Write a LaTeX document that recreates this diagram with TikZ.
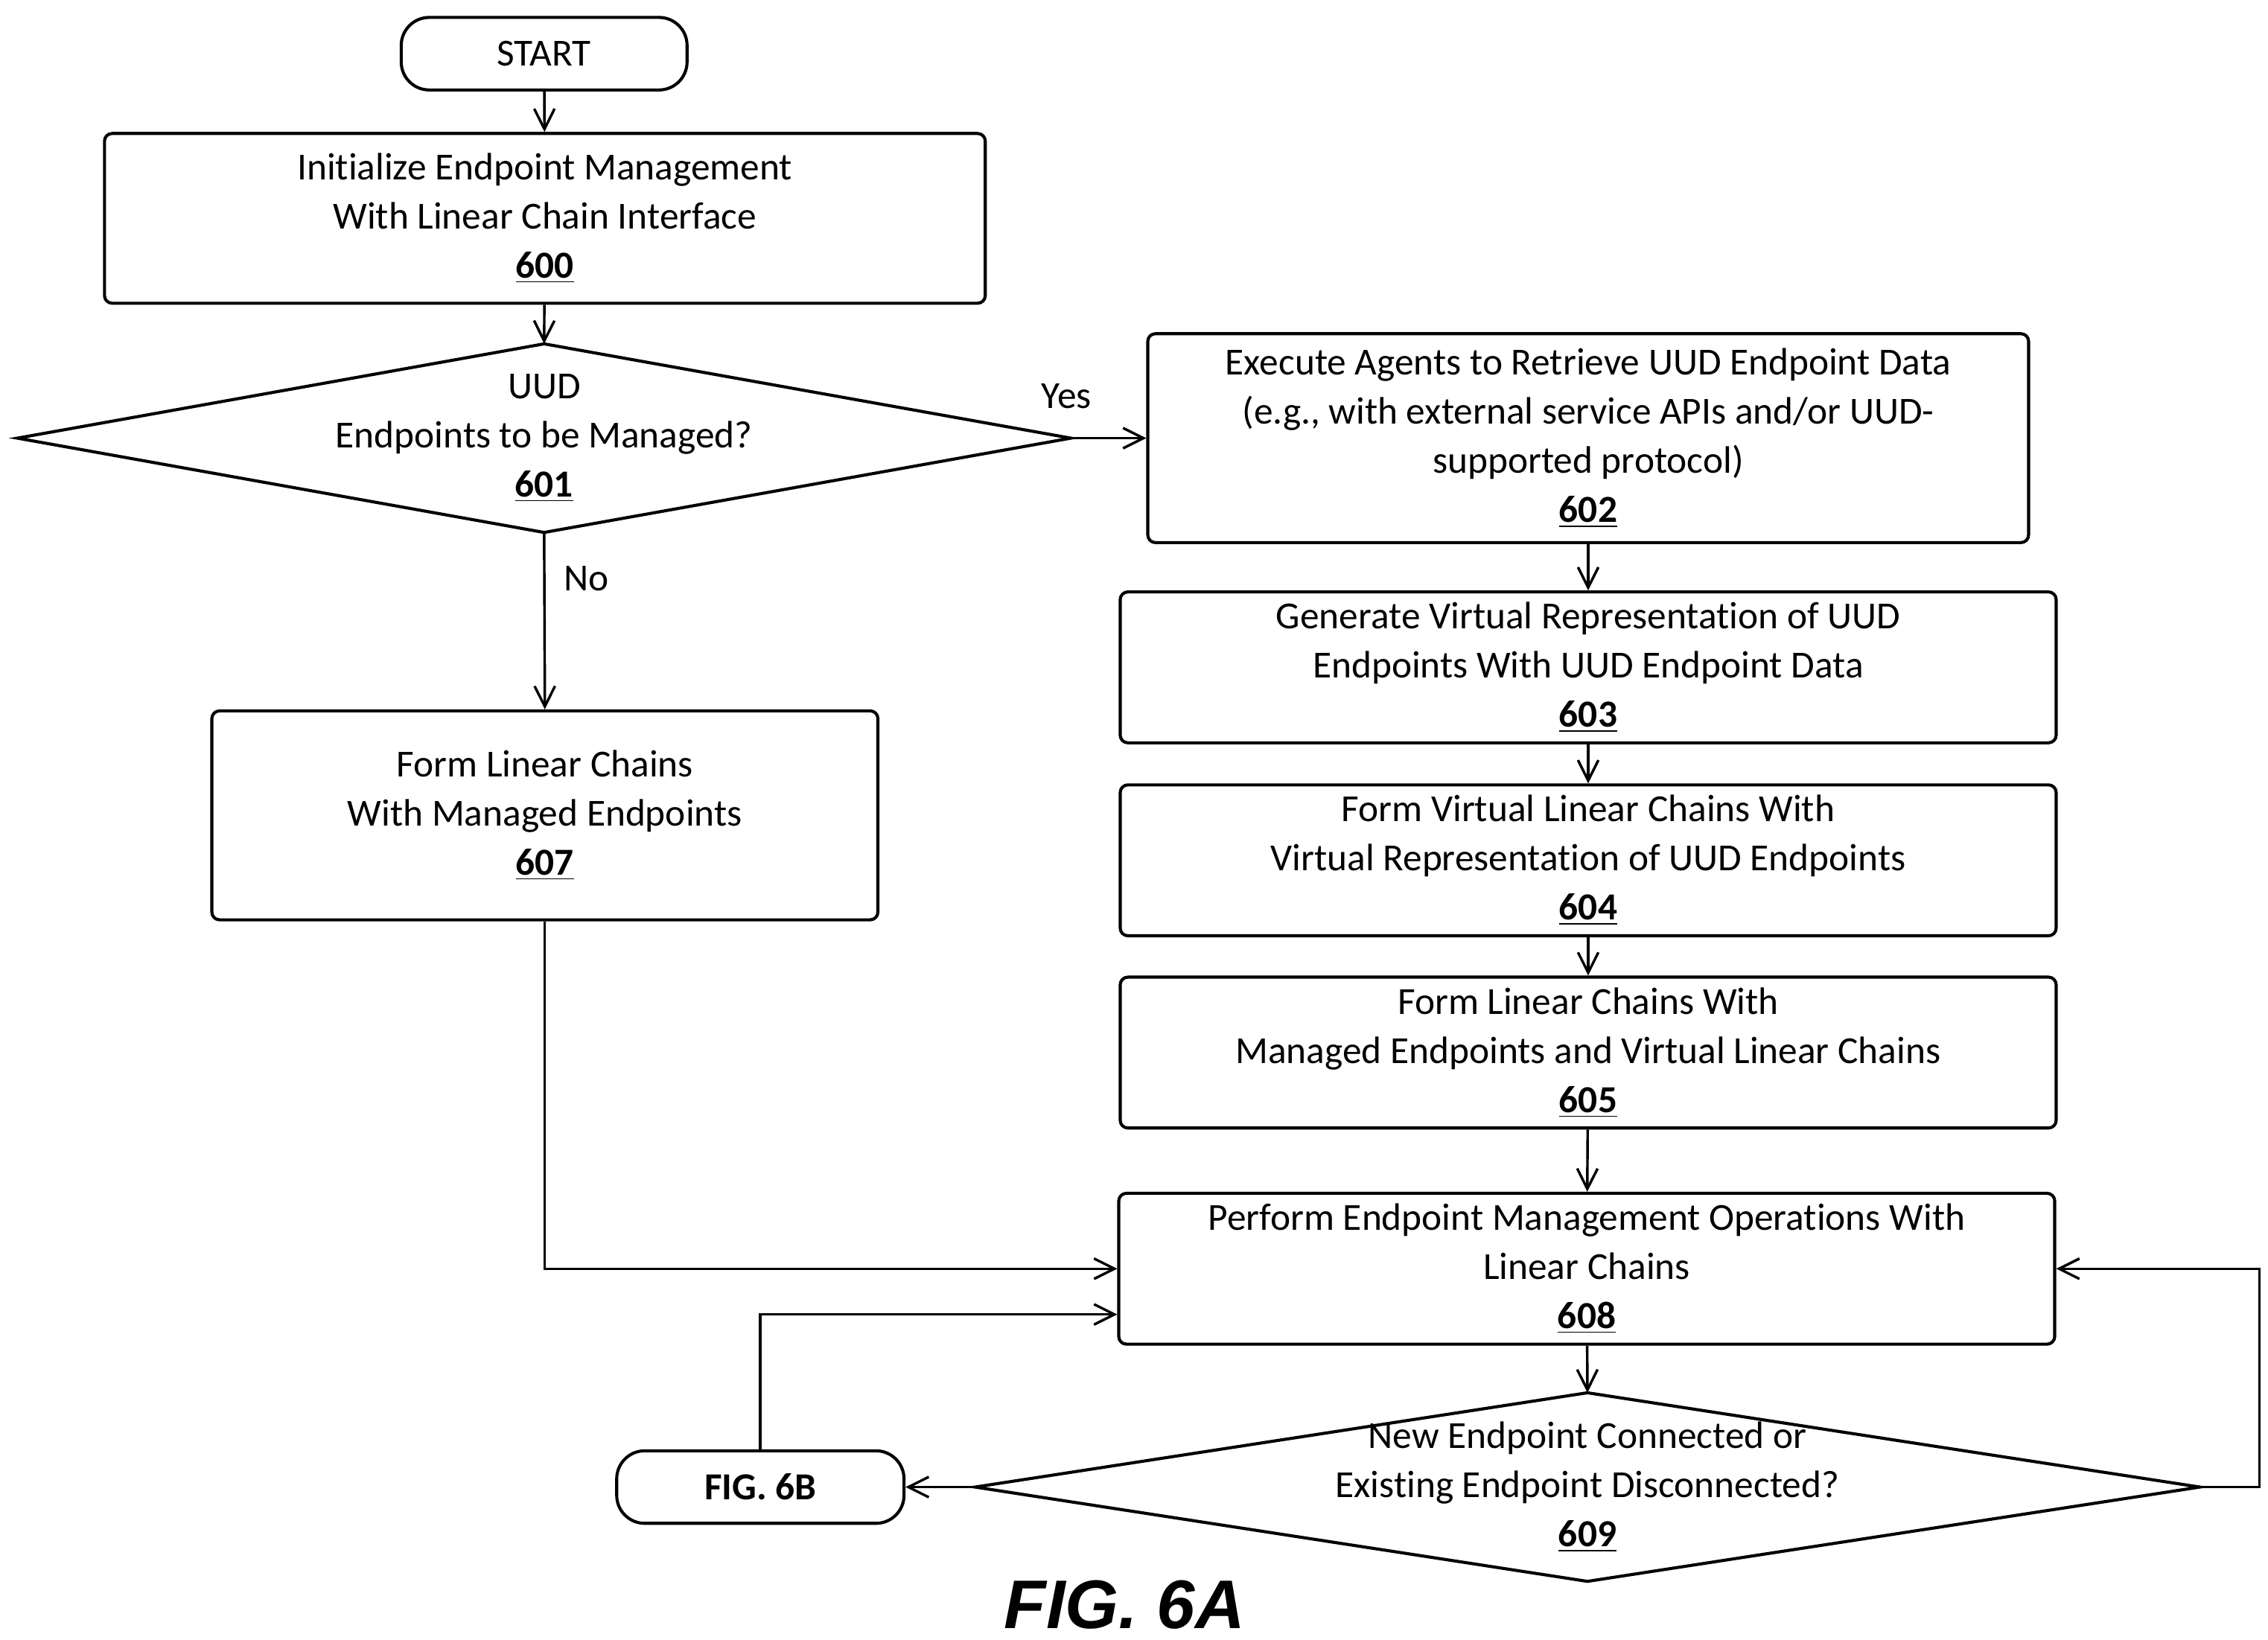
\documentclass[tikz,border=0pt]{standalone}
\usepackage{fontspec}
\setmainfont{Carlito}[RawFeature={-liga}]
\newfontfamily\figfont{Liberation Sans}
\usetikzlibrary{arrows.meta}
\begin{document}
\begin{tikzpicture}[x=0.02cm,y=-0.02cm,
  every node/.style={font=\fontsize{15pt}{19.3pt}\selectfont, align=center},
  box/.style={draw, line width=1.2pt, rounded corners=3pt, inner sep=0pt},
  term/.style={draw, line width=1.2pt, rounded corners=11pt, inner sep=0pt},
  dia/.style={draw, line width=1.2pt},
  arr/.style={-{Straight Barb[length=8pt,width=8pt]}, line width=1pt},
  ln/.style={line width=1pt}]
\useasboundingbox (0,0) rectangle (1563,1130);
\node[term, minimum width=197*0.02cm, minimum height=50*0.02cm] (start) at (375,37) {START};
\node[box, minimum width=607*0.02cm, minimum height=117*0.02cm] (n600) at (375.5,150.5) {Initialize Endpoint Management\\With Linear Chain Interface\\\underline{\textbf{600}}};
\draw[dia] (12,302) coordinate (d1w) -- (375,237) coordinate (d1n) -- (738,302) coordinate (d1e) -- (375,367) coordinate (d1s) -- cycle;
\node (n601) at (375,302) {UUD\\Endpoints to be Managed?\\\underline{\textbf{601}}};
\node[box, minimum width=607*0.02cm, minimum height=144*0.02cm] (n602) at (1094.5,302) {Execute Agents to Retrieve UUD Endpoint Data\\(e.g., with external service APIs and/or UUD-\\supported protocol)\\\underline{\textbf{602}}};
\node[box, minimum width=645*0.02cm, minimum height=104*0.02cm] (n603) at (1094.5,460) {Generate Virtual Representation of UUD\\Endpoints With UUD Endpoint Data\\\underline{\textbf{603}}};
\node[box, minimum width=645*0.02cm, minimum height=104*0.02cm] (n604) at (1094.5,593) {Form Virtual Linear Chains With\\Virtual Representation of UUD Endpoints\\\underline{\textbf{604}}};
\node[box, minimum width=645*0.02cm, minimum height=104*0.02cm] (n605) at (1094.5,725.5) {Form Linear Chains With\\Managed Endpoints and Virtual Linear Chains\\\underline{\textbf{605}}};
\node[box, minimum width=459*0.02cm, minimum height=144*0.02cm] (n607) at (375.5,562) {Form Linear Chains\\With Managed Endpoints\\\underline{\textbf{607}}};
\node[box, minimum width=645*0.02cm, minimum height=104*0.02cm] (n608) at (1093.5,874.5) {Perform Endpoint Management Operations With\\Linear Chains\\\underline{\textbf{608}}};
\draw[dia] (672,1025) coordinate (d2w) -- (1094,960) coordinate (d2n) -- (1516,1025) coordinate (d2e) -- (1094,1090) coordinate (d2s) -- cycle;
\node (n609) at (1094,1025) {New Endpoint Connected or\\Existing Endpoint Disconnected?\\\underline{\textbf{609}}};
\node[term, minimum width=198*0.02cm, minimum height=50*0.02cm] (fig6b) at (524,1025) {\textbf{FIG. 6B}};
\node[font=\figfont\fontsize{27pt}{30pt}\bfseries\itshape] (title) at (775,1106) {FIG. 6A};
\node (yes) at (735,273) {Yes};
\node (no) at (404,399) {No};
\draw[arr] (start) -- (n600);
\draw[arr] (n600) -- (d1n);
\draw[arr] (d1e) -- (n602.west |- d1e);
\draw[arr] (d1s) -- (n607.north);
\draw[arr] (n602) -- (n603);
\draw[arr] (n603) -- (n604);
\draw[arr] (n604) -- (n605);
\draw[arr] (n605) -- (n608);
\draw[arr] (n607.south) |- (n608.west);
\draw[arr] (n608) -- (d2n);
\draw[arr] (d2w) -- (fig6b.east);
\coordinate (c1) at (524,906);
\draw[arr] (fig6b.north) -- (c1) -- (n608.west |- c1);
\coordinate (c2) at (1557,1025);
\draw[arr] (d2e) -- (c2) |- (n608.east);
\end{tikzpicture}
\end{document}
